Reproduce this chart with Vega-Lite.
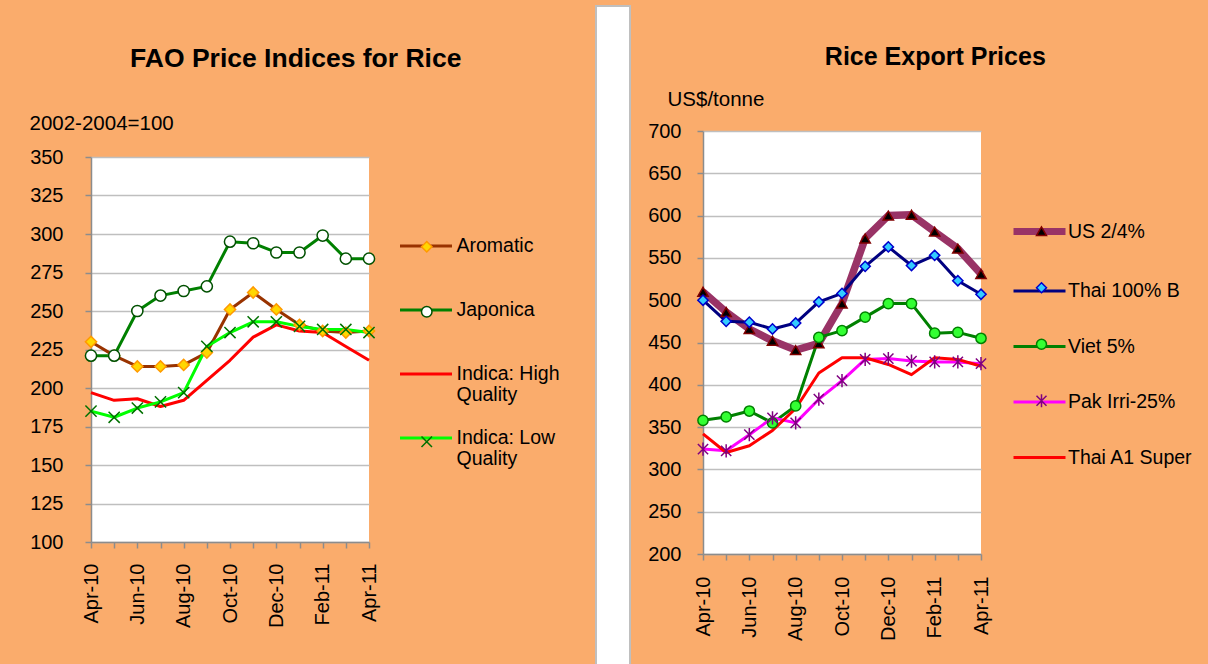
{
  "$schema": "https://vega.github.io/schema/vega-lite/v6.json",
  "background": "#FAAC6C",
  "padding": {"left": 29, "top": 0, "right": 16, "bottom": 0},
  "spacing": 16,
  "resolve": {
    "scale": {"color": "independent", "fill": "independent", "stroke": "independent", "shape": "independent"},
    "legend": {"color": "independent", "fill": "independent", "stroke": "independent", "shape": "independent"}
  },
  "config": {
    "font": "Liberation Sans",
    "view": {"stroke": null, "fill": "white"},
    "axis": {"labelFont": "Liberation Sans", "labelFontSize": 20, "labelColor": "black", "domainColor": "#8C8C8C", "domainWidth": 1.5, "tickColor": "#8C8C8C", "tickWidth": 1.5, "tickSize": 6, "gridColor": "#BFBFBF", "gridWidth": 1.5, "titleFont": "Liberation Sans", "titleFontWeight": "normal", "titleFontSize": 20.5, "titleColor": "black"},
    "legend": {"labelFont": "Liberation Sans", "labelFontSize": 19.5, "labelColor": "black"},
    "title": {"font": "Liberation Sans", "fontSize": 26, "fontWeight": "bold", "color": "black"}
  },
  "datasets": {
    "fao": [
      {"month": "Apr-10", "series": "Aromatic", "value": 230}, {"month": "May-10", "series": "Aromatic", "value": 221}, {"month": "Jun-10", "series": "Aromatic", "value": 214}, {"month": "Jul-10", "series": "Aromatic", "value": 214}, {"month": "Aug-10", "series": "Aromatic", "value": 215}, {"month": "Sep-10", "series": "Aromatic", "value": 223}, {"month": "Oct-10", "series": "Aromatic", "value": 251}, {"month": "Nov-10", "series": "Aromatic", "value": 262}, {"month": "Dec-10", "series": "Aromatic", "value": 251}, {"month": "Jan-11", "series": "Aromatic", "value": 241}, {"month": "Feb-11", "series": "Aromatic", "value": 237}, {"month": "Mar-11", "series": "Aromatic", "value": 236}, {"month": "Apr-11", "series": "Aromatic", "value": 237},
      {"month": "Apr-10", "series": "Japonica", "value": 221}, {"month": "May-10", "series": "Japonica", "value": 221}, {"month": "Jun-10", "series": "Japonica", "value": 250}, {"month": "Jul-10", "series": "Japonica", "value": 260}, {"month": "Aug-10", "series": "Japonica", "value": 263}, {"month": "Sep-10", "series": "Japonica", "value": 266}, {"month": "Oct-10", "series": "Japonica", "value": 295}, {"month": "Nov-10", "series": "Japonica", "value": 294}, {"month": "Dec-10", "series": "Japonica", "value": 288}, {"month": "Jan-11", "series": "Japonica", "value": 288}, {"month": "Feb-11", "series": "Japonica", "value": 299}, {"month": "Mar-11", "series": "Japonica", "value": 284}, {"month": "Apr-11", "series": "Japonica", "value": 284},
      {"month": "Apr-10", "series": "Indica: High Quality", "value": 197}, {"month": "May-10", "series": "Indica: High Quality", "value": 192}, {"month": "Jun-10", "series": "Indica: High Quality", "value": 193}, {"month": "Jul-10", "series": "Indica: High Quality", "value": 188}, {"month": "Aug-10", "series": "Indica: High Quality", "value": 192}, {"month": "Sep-10", "series": "Indica: High Quality", "value": 205}, {"month": "Oct-10", "series": "Indica: High Quality", "value": 218}, {"month": "Nov-10", "series": "Indica: High Quality", "value": 233}, {"month": "Dec-10", "series": "Indica: High Quality", "value": 241}, {"month": "Jan-11", "series": "Indica: High Quality", "value": 237}, {"month": "Feb-11", "series": "Indica: High Quality", "value": 236}, {"month": "Mar-11", "series": "Indica: High Quality", "value": 227}, {"month": "Apr-11", "series": "Indica: High Quality", "value": 218},
      {"month": "Apr-10", "series": "Indica: Low Quality", "value": 185}, {"month": "May-10", "series": "Indica: Low Quality", "value": 181}, {"month": "Jun-10", "series": "Indica: Low Quality", "value": 187}, {"month": "Jul-10", "series": "Indica: Low Quality", "value": 191}, {"month": "Aug-10", "series": "Indica: Low Quality", "value": 197}, {"month": "Sep-10", "series": "Indica: Low Quality", "value": 227}, {"month": "Oct-10", "series": "Indica: Low Quality", "value": 236}, {"month": "Nov-10", "series": "Indica: Low Quality", "value": 243}, {"month": "Dec-10", "series": "Indica: Low Quality", "value": 243}, {"month": "Jan-11", "series": "Indica: Low Quality", "value": 240}, {"month": "Feb-11", "series": "Indica: Low Quality", "value": 238}, {"month": "Mar-11", "series": "Indica: Low Quality", "value": 238}, {"month": "Apr-11", "series": "Indica: Low Quality", "value": 236}
    ],
    "exp": [
      {"month": "Apr-10", "series": "US 2/4%", "value": 510}, {"month": "May-10", "series": "US 2/4%", "value": 486}, {"month": "Jun-10", "series": "US 2/4%", "value": 466}, {"month": "Jul-10", "series": "US 2/4%", "value": 452}, {"month": "Aug-10", "series": "US 2/4%", "value": 441}, {"month": "Sep-10", "series": "US 2/4%", "value": 449}, {"month": "Oct-10", "series": "US 2/4%", "value": 496}, {"month": "Nov-10", "series": "US 2/4%", "value": 573}, {"month": "Dec-10", "series": "US 2/4%", "value": 600}, {"month": "Jan-11", "series": "US 2/4%", "value": 601}, {"month": "Feb-11", "series": "US 2/4%", "value": 581}, {"month": "Mar-11", "series": "US 2/4%", "value": 561}, {"month": "Apr-11", "series": "US 2/4%", "value": 531},
      {"month": "Apr-10", "series": "Thai 100% B", "value": 500}, {"month": "May-10", "series": "Thai 100% B", "value": 475}, {"month": "Jun-10", "series": "Thai 100% B", "value": 474}, {"month": "Jul-10", "series": "Thai 100% B", "value": 466}, {"month": "Aug-10", "series": "Thai 100% B", "value": 473}, {"month": "Sep-10", "series": "Thai 100% B", "value": 498}, {"month": "Oct-10", "series": "Thai 100% B", "value": 508}, {"month": "Nov-10", "series": "Thai 100% B", "value": 540}, {"month": "Dec-10", "series": "Thai 100% B", "value": 563}, {"month": "Jan-11", "series": "Thai 100% B", "value": 541}, {"month": "Feb-11", "series": "Thai 100% B", "value": 553}, {"month": "Mar-11", "series": "Thai 100% B", "value": 523}, {"month": "Apr-11", "series": "Thai 100% B", "value": 507},
      {"month": "Apr-10", "series": "Viet 5%", "value": 358}, {"month": "May-10", "series": "Viet 5%", "value": 362}, {"month": "Jun-10", "series": "Viet 5%", "value": 369}, {"month": "Jul-10", "series": "Viet 5%", "value": 355}, {"month": "Aug-10", "series": "Viet 5%", "value": 375}, {"month": "Sep-10", "series": "Viet 5%", "value": 456}, {"month": "Oct-10", "series": "Viet 5%", "value": 464}, {"month": "Nov-10", "series": "Viet 5%", "value": 480}, {"month": "Dec-10", "series": "Viet 5%", "value": 496}, {"month": "Jan-11", "series": "Viet 5%", "value": 496}, {"month": "Feb-11", "series": "Viet 5%", "value": 461}, {"month": "Mar-11", "series": "Viet 5%", "value": 462}, {"month": "Apr-11", "series": "Viet 5%", "value": 455},
      {"month": "Apr-10", "series": "Pak Irri-25%", "value": 324}, {"month": "May-10", "series": "Pak Irri-25%", "value": 322}, {"month": "Jun-10", "series": "Pak Irri-25%", "value": 341}, {"month": "Jul-10", "series": "Pak Irri-25%", "value": 361}, {"month": "Aug-10", "series": "Pak Irri-25%", "value": 355}, {"month": "Sep-10", "series": "Pak Irri-25%", "value": 383}, {"month": "Oct-10", "series": "Pak Irri-25%", "value": 405}, {"month": "Nov-10", "series": "Pak Irri-25%", "value": 430}, {"month": "Dec-10", "series": "Pak Irri-25%", "value": 431}, {"month": "Jan-11", "series": "Pak Irri-25%", "value": 428}, {"month": "Feb-11", "series": "Pak Irri-25%", "value": 427}, {"month": "Mar-11", "series": "Pak Irri-25%", "value": 427}, {"month": "Apr-11", "series": "Pak Irri-25%", "value": 425},
      {"month": "Apr-10", "series": "Thai A1 Super", "value": 342}, {"month": "May-10", "series": "Thai A1 Super", "value": 320}, {"month": "Jun-10", "series": "Thai A1 Super", "value": 328}, {"month": "Jul-10", "series": "Thai A1 Super", "value": 346}, {"month": "Aug-10", "series": "Thai A1 Super", "value": 372}, {"month": "Sep-10", "series": "Thai A1 Super", "value": 414}, {"month": "Oct-10", "series": "Thai A1 Super", "value": 432}, {"month": "Nov-10", "series": "Thai A1 Super", "value": 432}, {"month": "Dec-10", "series": "Thai A1 Super", "value": 424}, {"month": "Jan-11", "series": "Thai A1 Super", "value": 412}, {"month": "Feb-11", "series": "Thai A1 Super", "value": 432}, {"month": "Mar-11", "series": "Thai A1 Super", "value": 430}, {"month": "Apr-11", "series": "Thai A1 Super", "value": 422}
    ],
    "blank": [{"a": 1}]
  },
  "hconcat": [
    {
      "spacing": 33,
      "resolve": {
        "scale": {"color": "independent", "fill": "independent", "stroke": "independent", "shape": "independent"},
        "legend": {"color": "independent", "fill": "independent", "stroke": "independent", "shape": "independent"}
      },
      "vconcat": [
        {"width": 1, "height": 1, "view": {"fill": "transparent", "stroke": null}, "data": {"name": "blank"}, "mark": {"type": "text", "text": ""}, "encoding": {}},
        {
          "width": 278,
          "height": 385,
          "title": {"text": "FAO Price Indices for Rice", "fontSize": 26.5, "offset": 41, "dx": -8, "anchor": "middle", "frame": "bounds"},
          "data": {"name": "fao"},
          "encoding": {
            "x": {"field": "month", "type": "ordinal", "sort": ["Apr-10","May-10","Jun-10","Jul-10","Aug-10","Sep-10","Oct-10","Nov-10","Dec-10","Jan-11","Feb-11","Mar-11","Apr-11"], "scale": {"type": "point", "padding": 0}, "axis": {"title": null, "labelAngle": 270, "labelPadding": 15, "grid": false, "labelOverlap": false, "labelExpr": "indexof(['Apr-10','Jun-10','Aug-10','Oct-10','Dec-10','Feb-11','Apr-11'], datum.value) >= 0 ? datum.value : ''"}},
            "y": {"field": "value", "type": "quantitative", "scale": {"domain": [100, 350]}, "axis": {"values": [100,125,150,175,200,225,250,275,300,325,350], "title": "2002-2004=100", "titleAngle": 0, "titleAlign": "left", "titleBaseline": "middle", "titleX": -62, "titleY": -34, "labelPadding": 22}}
          },
          "layer": [
            {
              "mark": {"type": "line", "strokeWidth": 3, "strokeJoin": "round"},
              "encoding": {
                "color": {"field": "series", "type": "nominal", "sort": ["Aromatic", "Japonica", "Indica: High Quality", "Indica: Low Quality"], "scale": {"range": ["#993300", "#008000", "#FF0000", "#00FF00"]},
                  "legend": {"orient": "none", "legendX": 288.5, "legendY": 61, "padding": 19, "direction": "vertical", "columns": 1, "title": null, "symbolType": "stroke", "symbolSize": 2704, "symbolStrokeWidth": 3, "labelOffset": 3, "labelLimit": 250, "rowPadding": 23,
                    "labelExpr": "datum.label == 'Indica: High Quality' ? ['Indica: High', 'Quality'] : datum.label == 'Indica: Low Quality' ? ['Indica: Low', 'Quality'] : [datum.label, '']",
                    "encode": {"symbols": {"update": {"y": {"value": 9}}}, "labels": {"update": {"y": {"value": 9}, "lineHeight": {"value": 21}}}}}}
              }
            },
            {
              "mark": {"type": "point", "filled": true, "opacity": 1, "strokeWidth": 1.5, "size": 125},
              "encoding": {
                "shape": {"field": "series", "type": "nominal", "scale": {"domain": ["Aromatic", "Japonica", "Indica: High Quality", "Indica: Low Quality"], "range": ["diamond", "circle", "circle", "M-1,-1L1,1M-1,1L1,-1"]},
                  "legend": {"orient": "none", "legendX": 288.5, "legendY": 61, "padding": 19, "direction": "vertical", "columns": 1, "title": null, "symbolSize": 110, "symbolStrokeWidth": 1.5, "symbolOffset": 18.5, "labelOffset": 3, "labelLimit": 250, "rowPadding": 23, "labelColor": "transparent",
                    "labelExpr": "datum.label == 'Indica: High Quality' ? ['Indica: High', 'Quality'] : datum.label == 'Indica: Low Quality' ? ['Indica: Low', 'Quality'] : [datum.label, '']",
                    "encode": {"symbols": {"update": {"y": {"value": 9}}}, "labels": {"update": {"y": {"value": 9}, "lineHeight": {"value": 21}}}}}},
                "fill": {"field": "series", "type": "nominal", "scale": {"domain": ["Aromatic", "Japonica", "Indica: High Quality", "Indica: Low Quality"], "range": ["#FFD700", "#FFFFFF", "transparent", "transparent"]},
                  "legend": {"orient": "none", "legendX": 288.5, "legendY": 61, "padding": 19, "direction": "vertical", "columns": 1, "title": null, "symbolSize": 110, "symbolStrokeWidth": 1.5, "symbolOffset": 18.5, "labelOffset": 3, "labelLimit": 250, "rowPadding": 23, "labelColor": "transparent",
                    "labelExpr": "datum.label == 'Indica: High Quality' ? ['Indica: High', 'Quality'] : datum.label == 'Indica: Low Quality' ? ['Indica: Low', 'Quality'] : [datum.label, '']",
                    "encode": {"symbols": {"update": {"y": {"value": 9}}}, "labels": {"update": {"y": {"value": 9}, "lineHeight": {"value": 21}}}}}},
                "stroke": {"field": "series", "type": "nominal", "scale": {"domain": ["Aromatic", "Japonica", "Indica: High Quality", "Indica: Low Quality"], "range": ["#FF9900", "#005000", "transparent", "#007000"]},
                  "legend": {"orient": "none", "legendX": 288.5, "legendY": 61, "padding": 19, "direction": "vertical", "columns": 1, "title": null, "symbolSize": 110, "symbolStrokeWidth": 1.5, "symbolOffset": 18.5, "labelOffset": 3, "labelLimit": 250, "rowPadding": 23, "labelColor": "transparent",
                    "labelExpr": "datum.label == 'Indica: High Quality' ? ['Indica: High', 'Quality'] : datum.label == 'Indica: Low Quality' ? ['Indica: Low', 'Quality'] : [datum.label, '']",
                    "encode": {"symbols": {"update": {"y": {"value": 9}}}, "labels": {"update": {"y": {"value": 9}, "lineHeight": {"value": 21}}}}}}
              }
            }
          ]
        }
      ]
    },
    {
      "width": 34,
      "height": 662,
      "view": {"fill": "white", "stroke": "#BFBFBF", "strokeWidth": 2},
      "data": {"name": "blank"},
      "mark": {"type": "text", "text": ""},
      "encoding": {}
    },
    {
      "spacing": 33,
      "resolve": {
        "scale": {"color": "independent", "fill": "independent", "stroke": "independent", "shape": "independent"},
        "legend": {"color": "independent", "fill": "independent", "stroke": "independent", "shape": "independent"}
      },
      "vconcat": [
        {"width": 1, "height": 1, "view": {"fill": "transparent", "stroke": null}, "data": {"name": "blank"}, "mark": {"type": "text", "text": ""}, "encoding": {}},
        {
          "width": 278,
          "height": 423,
          "title": {"text": "Rice Export Prices", "fontSize": 25, "offset": 19, "dx": 15, "anchor": "middle", "frame": "bounds"},
          "data": {"name": "exp"},
          "encoding": {
            "x": {"field": "month", "type": "ordinal", "sort": ["Apr-10","May-10","Jun-10","Jul-10","Aug-10","Sep-10","Oct-10","Nov-10","Dec-10","Jan-11","Feb-11","Mar-11","Apr-11"], "scale": {"type": "point", "padding": 0}, "axis": {"title": null, "labelAngle": 270, "labelPadding": 16, "grid": false, "labelOverlap": false, "labelExpr": "indexof(['Apr-10','Jun-10','Aug-10','Oct-10','Dec-10','Feb-11','Apr-11'], datum.value) >= 0 ? datum.value : ''"}},
            "y": {"field": "value", "type": "quantitative", "scale": {"domain": [200, 700]}, "axis": {"values": [200,250,300,350,400,450,500,550,600,650,700], "title": "US$/tonne", "titleAngle": 0, "titleAlign": "left", "titleBaseline": "middle", "titleX": -36, "titleY": -32, "labelPadding": 16}}
          },
          "layer": [
            {
              "mark": {"type": "line", "strokeJoin": "round"},
              "encoding": {
                "color": {"field": "series", "type": "nominal", "sort": ["US 2/4%", "Thai 100% B", "Viet 5%", "Pak Irri-25%", "Thai A1 Super"], "scale": {"range": ["#993366", "#000080", "#008000", "#FF00FF", "#FF0000"]},
                  "legend": {"orient": "none", "legendX": 309, "legendY": 90.5, "padding": 0, "direction": "vertical", "columns": 1, "title": null, "symbolType": "stroke", "symbolSize": 2704, "symbolStrokeWidth": 3, "labelOffset": 1, "labelLimit": 250, "rowPadding": 35.5,
                    "encode": {"symbols": {"update": {"y": {"value": 10}, "strokeWidth": {"signal": "(datum.label == 'US 2/4%' ? 7 : 3)"}}}, "labels": {"update": {"y": {"value": 10}}}}}},
                "strokeWidth": {"condition": {"test": "datum.series == 'US 2/4%'", "value": 7.5}, "value": 3}
              }
            },
            {
              "mark": {"type": "point", "filled": true, "opacity": 1, "strokeWidth": 1.5, "size": 105},
              "encoding": {
                "shape": {"field": "series", "type": "nominal", "scale": {"domain": ["US 2/4%", "Thai 100% B", "Viet 5%", "Pak Irri-25%", "Thai A1 Super"], "range": ["triangle-up", "diamond", "circle", "M-1,-1L1,1M-1,1L1,-1M0,-1.3L0,1.3", "circle"]},
                  "legend": {"orient": "none", "legendX": 309, "legendY": 90.5, "padding": 0, "direction": "vertical", "columns": 1, "title": null, "symbolSize": 100, "symbolStrokeWidth": 1.5, "symbolOffset": 19.75, "labelOffset": 1, "labelLimit": 250, "rowPadding": 35.5, "labelColor": "transparent",
                    "encode": {"symbols": {"update": {"y": {"value": 10}}}, "labels": {"update": {"y": {"value": 10}}}}}},
                "fill": {"field": "series", "type": "nominal", "scale": {"domain": ["US 2/4%", "Thai 100% B", "Viet 5%", "Pak Irri-25%", "Thai A1 Super"], "range": ["#000000", "#33CCFF", "#33FF33", "transparent", "transparent"]},
                  "legend": {"orient": "none", "legendX": 309, "legendY": 90.5, "padding": 0, "direction": "vertical", "columns": 1, "title": null, "symbolSize": 100, "symbolStrokeWidth": 1.5, "symbolOffset": 19.75, "labelOffset": 1, "labelLimit": 250, "rowPadding": 35.5, "labelColor": "transparent",
                    "encode": {"symbols": {"update": {"y": {"value": 10}}}, "labels": {"update": {"y": {"value": 10}}}}}},
                "stroke": {"field": "series", "type": "nominal", "scale": {"domain": ["US 2/4%", "Thai 100% B", "Viet 5%", "Pak Irri-25%", "Thai A1 Super"], "range": ["#800000", "#0000CC", "#008000", "#800080", "transparent"]},
                  "legend": {"orient": "none", "legendX": 309, "legendY": 90.5, "padding": 0, "direction": "vertical", "columns": 1, "title": null, "symbolSize": 100, "symbolStrokeWidth": 1.5, "symbolOffset": 19.75, "labelOffset": 1, "labelLimit": 250, "rowPadding": 35.5, "labelColor": "transparent",
                    "encode": {"symbols": {"update": {"y": {"value": 10}}}, "labels": {"update": {"y": {"value": 10}}}}}}
              }
            }
          ]
        }
      ]
    }
  ]
}
